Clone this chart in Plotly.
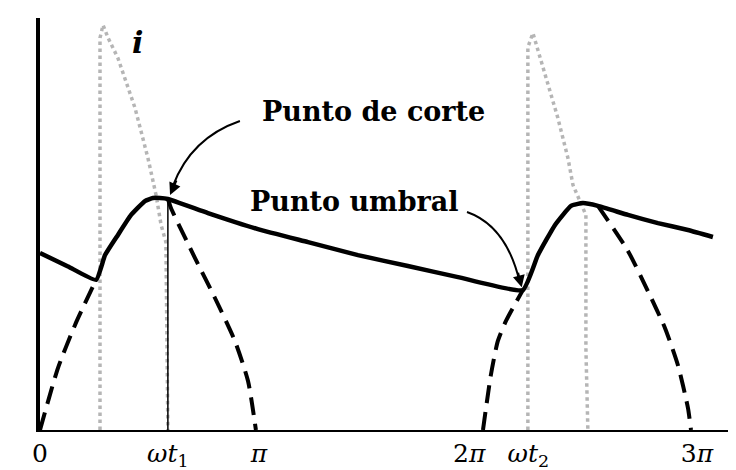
import plotly.graph_objects as go

# x in units of pi (angle wt), y scaled so the source sine peak = 1
wt1 = 0.584
wt2 = 2.205

# capacitor (output) voltage, solid
vo_x = [0, 0.128, 0.256, 0.297, 0.356, 0.416, 0.479, 0.516, 0.548, wt1, 0.767, 0.995,
        1.224, 1.452, 1.680, 1.909, wt2, 2.274, 2.352, 2.425, 2.479, 2.548, 2.685,
        2.822, 2.959, 3.073]
vo_y = [0.763, 0.705, 0.647, 0.754, 0.841, 0.927, 0.987, 1.0, 1.0, 0.996, 0.935, 0.866,
        0.810, 0.754, 0.707, 0.659, 0.603, 0.754, 0.884, 0.966, 0.978, 0.966, 0.927,
        0.892, 0.862, 0.832]

# source half-sine where it is not followed by the capacitor, dashed
vs_x = [0, 0.082, 0.160, 0.256, None,
        wt1, 0.598, 0.708, 0.799, 0.890, 0.950, 0.986, None,
        2.023, 2.059, 2.091, 2.128, wt2, None,
        2.548, 2.685, 2.776, 2.854, 2.913, 2.959, 2.973]
vs_y = [0, 0.267, 0.453, 0.647, None,
        0.996, 0.957, 0.741, 0.569, 0.384, 0.211, 0, None,
        0, 0.237, 0.384, 0.470, 0.603, None,
        0.966, 0.772, 0.599, 0.440, 0.280, 0.095, 0]

# diode current pulses
i1_x = [0.274, 0.274, 0.288, 0.311, 0.356, 0.434, 0.493, 0.530, 0.553, 0.575, wt1]
i1_y = [0, 1.69, 1.746, 1.69, 1.603, 1.388, 1.172, 1.013, 0.884, 0.81, 0]
i2_x = [2.228, 2.228, 2.251, 2.306, 2.365, 2.411, 2.434, 2.493, 2.493, 2.502]
i2_y = [0, 1.65, 1.711, 1.530, 1.345, 1.172, 1.056, 0.927, 0.353, 0]

tick_vals = [0, wt1, 1.0, 1.96, 2.23, 3.0]
tick_text = ["0", "<i>ωt</i><sub>1</sub>", "<i>π</i>", "2<i>π</i>",
             "<i>ωt</i><sub>2</sub>", "3<i>π</i>"]

fig = go.Figure()

for x, y in [(i1_x, i1_y), (i2_x, i2_y)]:
    fig.add_trace(go.Scatter(x=x, y=y, mode="lines",
                             line=dict(color="rgba(120,120,120,0.55)", width=3.5, dash="dot"),
                             showlegend=False, hoverinfo="skip"))

fig.add_trace(go.Scatter(x=[wt1, wt1], y=[0, vo_y[vo_x.index(wt1)]], mode="lines",
                         line=dict(color="black", width=1.5), showlegend=False))

fig.add_trace(go.Scatter(x=vs_x, y=vs_y, mode="lines",
                         line=dict(color="black", width=4, dash="18px,9px",
                                   shape="spline", smoothing=0.6),
                         showlegend=False))

fig.add_trace(go.Scatter(x=vo_x, y=vo_y, mode="lines",
                         line=dict(color="black", width=4.5, shape="spline", smoothing=0.4),
                         showlegend=False))

serif = "DejaVu Serif"

# curved arrow lines for the two labels
fig.add_shape(type="path", xref="x", yref="y",
              path="M 0.913,1.332 Q 0.689,1.259 0.607,1.052",
              line=dict(color="black", width=2))
fig.add_shape(type="path", xref="x", yref="y",
              path="M 1.950,0.940 Q 2.130,0.880 2.190,0.640",
              line=dict(color="black", width=2))

fig.add_annotation(x=0.594, y=1.013, ax=7, ay=-16, text="", showarrow=True,
                   arrowhead=2, arrowsize=1.2, arrowwidth=2, arrowcolor="black")
fig.add_annotation(x=wt2 - 0.005, y=0.615, ax=-4, ay=-16, text="", showarrow=True,
                   arrowhead=2, arrowsize=1.2, arrowwidth=2, arrowcolor="black")

fig.add_annotation(x=1.521, y=1.371, text="<b>Punto de corte</b>", showarrow=False,
                   font=dict(family=serif, size=27, color="black"))
fig.add_annotation(x=1.438, y=0.983, text="<b>Punto umbral</b>", showarrow=False,
                   font=dict(family=serif, size=27, color="black"))
fig.add_annotation(x=0.443, y=1.672, text="<b><i>i</i></b>", showarrow=False,
                   font=dict(family=serif, size=30, color="black"))

fig.update_layout(
    width=736, height=470,
    margin=dict(l=32, r=0, t=10, b=48),
    plot_bgcolor="white", paper_bgcolor="white",
    xaxis=dict(range=[0, 3.215], showgrid=False, zeroline=False,
               showline=True, linecolor="black", linewidth=2,
               tickmode="array", tickvals=tick_vals, ticktext=tick_text,
               ticks="", ticklabelstandoff=0,
               tickfont=dict(family=serif, size=25, color="black")),
    yaxis=dict(range=[0, 1.776], showgrid=False, zeroline=False,
               showline=True, linecolor="black", linewidth=3.5,
               showticklabels=False, ticks=""),
)

fig.write_html("out.html")
